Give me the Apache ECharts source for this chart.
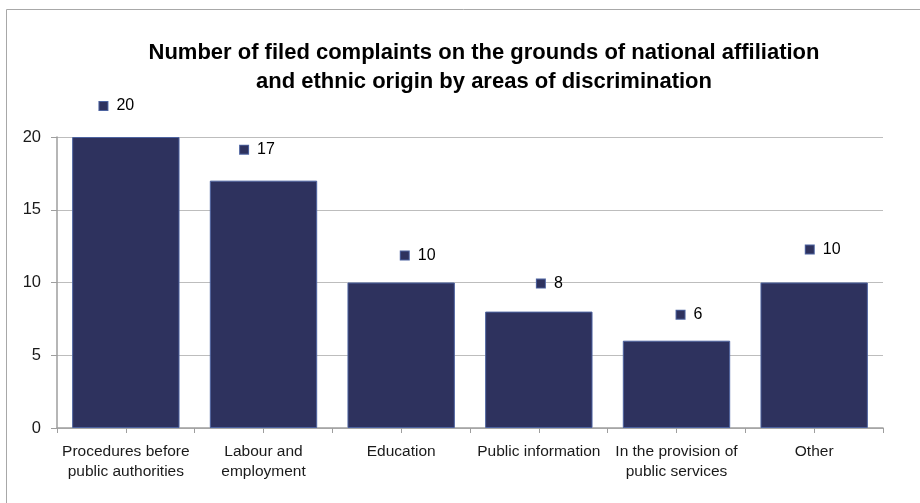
<!DOCTYPE html>
<html>
<head>
<meta charset="utf-8">
<script src="https://cdn.jsdelivr.net/npm/echarts@6/dist/echarts.min.js"></script>
<style>
  html, body { margin: 0; padding: 0; background: #fff; }
  #chart { width: 920px; height: 503px; }
</style>
</head>
<body>
<div id="chart"></div>
<script>
// Complaints on the grounds of national affiliation and ethnic origin
const titleLines = [
  'Number of filed complaints on the grounds of national affiliation',
  'and ethnic origin by areas of discrimination'
];
const areas = [
  'Procedures before\npublic authorities',
  'Labour and\nemployment',
  'Education',
  'Public information',
  'In the provision of\npublic services',
  'Other'
];
const complaints = [20, 17, 10, 8, 6, 10];
const yTicks = { min: 0, max: 20, step: 5 };

// per-bar nudges for the value callouts [dx, dy]
const calloutShift = [[-9, -23], [-6, -23], [17, -19], [11, -20], [13, -18], [9, -25]];

const FONT = '"Liberation Sans", Arial, sans-serif';
const BAR = '#2E325E';
const BAR_EDGE = '#4D63A0';

const chart = echarts.init(document.getElementById('chart'), null, { renderer: 'canvas' });

chart.setOption({
  backgroundColor: '#ffffff',
  animation: false,
  title: {
    text: titleLines.join('\n'),
    left: 479,
    top: 33,
    textAlign: 'center',
    textStyle: {
      fontFamily: FONT,
      fontWeight: 'bold',
      fontSize: 22,
      lineHeight: 29,
      color: '#000'
    }
  },
  graphic: [{
    type: 'rect',
    shape: { x: 6.5, y: 9.5, width: 940, height: 520 },
    style: { fill: 'none', stroke: '#A8A8A8', lineWidth: 1 },
    silent: true
  }],
  grid: { left: 57, right: 37, top: 137, bottom: 75 },
  xAxis: [{
    type: 'category',
    data: areas,
    axisLine: { lineStyle: { color: '#9E9E9E', width: 1.5 } },
    axisTick: { show: true, length: 5, lineStyle: { color: '#9E9E9E' } },
    axisLabel: {
      fontFamily: FONT, fontSize: 15.5, lineHeight: 20, color: '#1a1a1a',
      margin: 14, interval: 0
    }
  }, {
    type: 'category',
    data: areas,
    position: 'bottom',
    axisLine: { show: false },
    axisTick: { show: true, alignWithLabel: true, length: 5, lineStyle: { color: '#9E9E9E' } },
    axisLabel: { show: false }
  }],
  yAxis: {
    type: 'value',
    min: yTicks.min,
    max: yTicks.max,
    interval: yTicks.step,
    axisLine: { show: true, lineStyle: { color: '#9E9E9E', width: 1.5 } },
    axisTick: { show: true, length: 6, lineStyle: { color: '#9E9E9E' } },
    splitLine: { lineStyle: { color: '#BDBDBD', width: 1 } },
    axisLabel: { fontFamily: FONT, fontSize: 16.5, color: '#1a1a1a', margin: 16 }
  },
  series: [{
    type: 'bar',
    xAxisIndex: 0,
    barCategoryGap: '22%',
    itemStyle: { color: BAR, borderColor: BAR_EDGE, borderWidth: 1 },
    data: complaints.map((v, i) => ({
      value: v,
      label: { offset: calloutShift[i] }
    })),
    label: {
      show: true,
      position: 'top',
      distance: 0,
      formatter: p => '{sq|}{v|' + p.value + '}',
      rich: {
        sq: { width: 8, height: 8, backgroundColor: BAR, borderColor: BAR_EDGE, borderWidth: 1 },
        v: { fontFamily: FONT, fontSize: 16, color: '#000', padding: [0, 0, 0, 9] }
      }
    }
  }]
});
</script>
</body>
</html>
